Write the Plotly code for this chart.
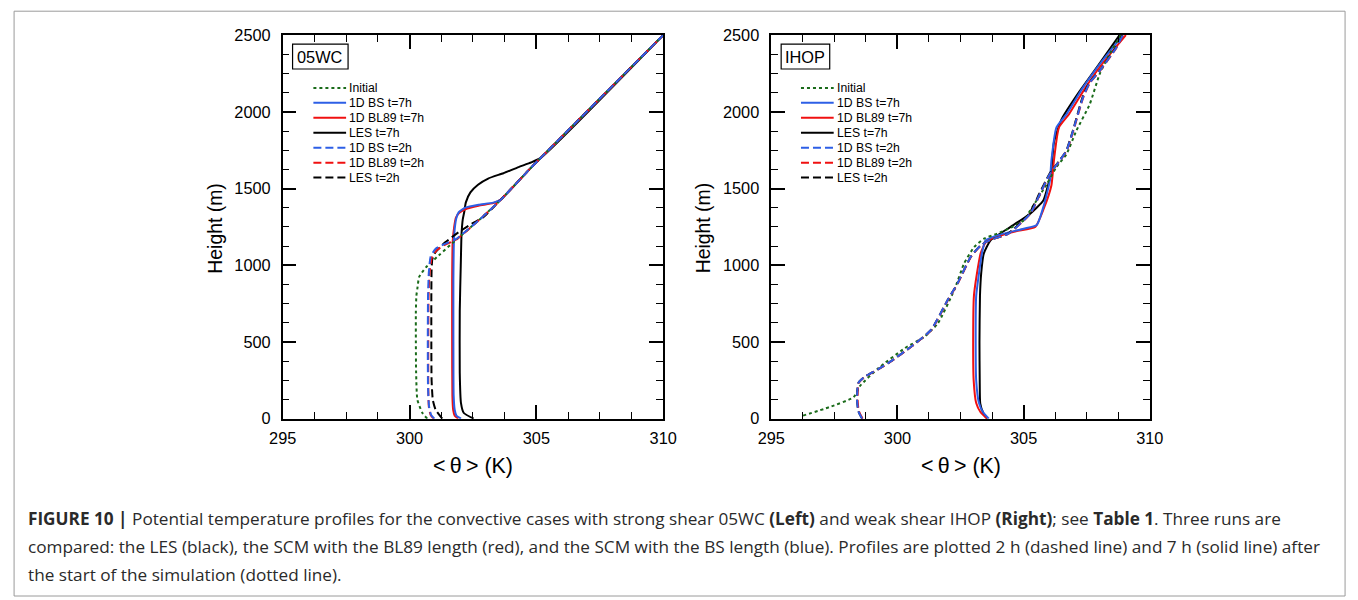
import plotly.graph_objects as go

# The captured region is the figure plus an 8px page margin, scaled to 1358x600.
# Work in target-picture pixels and convert to figure pixels.
TARGET_W, TARGET_H = 1358, 600
PAGE_MARGIN = 8
CAP_W, CAP_H = 1374, 616
W, H = CAP_W - PAGE_MARGIN, CAP_H - PAGE_MARGIN
SX, SY = CAP_W / TARGET_W, CAP_H / TARGET_H

# ---------------- 05WC data (theta K, height m) ----------------
wc_init_T = [300.70, 300.51, 300.31, 300.26, 300.25, 300.25, 300.27, 300.31, 300.38, 300.64, 301.16, 301.81, 302.72, 303.50, 304.68, 305.10, 310.00]
wc_init_h = [0, 37, 123, 300, 500, 700, 800, 849, 924, 985, 1065, 1162, 1292, 1411, 1617, 1688, 2500]

wc_bs2_T = [300.98, 300.85, 300.77, 300.73, 300.72, 300.73, 300.76, 300.83, 301.03, 301.42, 301.81, 302.72, 303.50, 304.68, 305.10, 310.00]
wc_bs2_h = [0, 25, 80, 200, 500, 800, 950, 1054, 1108, 1141, 1168, 1292, 1411, 1617, 1688, 2500]

wc_bl2_T = [300.95, 300.83, 300.76, 300.74, 300.74, 300.75, 300.79, 300.88, 301.08, 301.45, 301.83, 302.72, 303.50, 304.68, 305.10, 310.00]
wc_bl2_h = [0, 25, 80, 200, 500, 800, 950, 1050, 1100, 1138, 1166, 1292, 1411, 1617, 1688, 2500]

wc_les2_T = [301.29, 301.03, 300.92, 300.87, 300.86, 300.86, 300.87, 300.90, 301.03, 301.42, 301.94, 302.46, 302.92, 303.50, 304.68, 305.10, 310.00]
wc_les2_h = [0, 58, 120, 250, 500, 800, 968, 1040, 1087, 1151, 1216, 1271, 1314, 1411, 1617, 1688, 2500]

wc_bs7_T = [302.03, 301.85, 301.78, 301.74, 301.73, 301.73, 301.75, 301.79, 301.85, 301.94, 302.20, 302.72, 303.30, 303.60, 304.68, 305.10, 310.00]
wc_bs7_h = [0, 20, 58, 150, 500, 900, 1150, 1250, 1310, 1346, 1376, 1395, 1408, 1428, 1617, 1688, 2500]

wc_bl7_T = [301.92, 301.78, 301.72, 301.69, 301.68, 301.68, 301.70, 301.76, 301.83, 301.95, 302.20, 302.72, 303.30, 303.60, 304.68, 305.10, 310.00]
wc_bl7_h = [0, 20, 58, 150, 500, 900, 1150, 1250, 1310, 1340, 1365, 1388, 1405, 1428, 1617, 1688, 2500]

wc_les7_T = [302.53, 302.14, 302.03, 301.98, 301.98, 302.02, 302.05, 302.10, 302.16, 302.22, 302.40, 302.70, 303.10, 303.70, 304.30, 304.80, 305.20, 310.00]
wc_les7_h = [0, 37, 100, 300, 700, 1000, 1200, 1300, 1350, 1410, 1475, 1525, 1565, 1600, 1640, 1670, 1703, 2500]

# ---------------- IHOP data ----------------
ih_init_T = [296.26, 297.30, 298.26, 298.52, 299.24, 300.29, 301.07, 301.60, 302.25, 302.64, 303.04, 303.43, 303.95, 304.50, 305.00, 305.26, 305.92, 306.30, 306.70, 307.09, 307.62, 308.01, 308.40, 308.85]
ih_init_h = [20, 75, 140, 214, 329, 459, 534, 621, 838, 1011, 1119, 1173, 1206, 1245, 1292, 1357, 1530, 1640, 1725, 1877, 2050, 2245, 2375, 2500]

ih_bs2_T = [298.60, 298.45, 298.40, 298.45, 298.72, 299.24, 299.63, 300.55, 301.33, 301.99, 302.38, 302.90, 303.30, 303.69, 304.40, 305.26, 305.65, 306.04, 306.43, 306.70, 306.96, 307.35, 307.62, 308.01, 308.67, 308.93]
ih_bs2_h = [0, 50, 123, 232, 275, 323, 362, 470, 578, 773, 881, 1054, 1130, 1165, 1206, 1336, 1466, 1595, 1682, 1747, 1877, 2093, 2190, 2266, 2418, 2500]

ih_bl2_T = [298.62, 298.47, 298.42, 298.46, 298.73, 299.25, 299.64, 300.56, 301.34, 302.00, 302.39, 302.91, 303.31, 303.70, 304.41, 305.27, 305.66, 306.05, 306.44, 306.71, 306.97, 307.36, 307.63, 308.02, 308.68, 308.95]
ih_bl2_h = ih_bs2_h

ih_les2_T = [298.60, 298.45, 298.40, 298.45, 298.72, 299.24, 299.63, 300.55, 301.33, 301.99, 302.38, 302.90, 303.30, 303.69, 304.38, 305.22, 305.62, 306.02, 306.42, 306.69, 306.95, 307.33, 307.60, 308.00, 308.65, 308.92]
ih_les2_h = ih_bs2_h

ih_bs7_T = [303.62, 303.40, 303.23, 303.12, 303.10, 303.12, 303.23, 303.35, 303.49, 303.95, 305.00, 305.52, 305.78, 306.04, 306.10, 306.30, 306.70, 307.35, 308.01, 308.93]
ih_bs7_h = [0, 40, 102, 250, 500, 800, 946, 1080, 1162, 1195, 1238, 1262, 1379, 1552, 1682, 1898, 1985, 2158, 2310, 2500]

ih_bl7_T = [303.55, 303.30, 303.12, 303.02, 303.00, 303.03, 303.15, 303.30, 303.50, 303.90, 304.70, 305.46, 305.80, 306.10, 306.20, 306.40, 306.80, 307.45, 308.10, 309.05]
ih_bl7_h = [0, 40, 102, 250, 500, 800, 946, 1080, 1150, 1185, 1222, 1249, 1370, 1520, 1682, 1898, 1985, 2158, 2310, 2500]

ih_les7_T = [303.55, 303.40, 303.28, 303.26, 303.25, 303.27, 303.32, 303.42, 303.69, 304.47, 305.26, 305.78, 305.98, 306.10, 306.20, 306.50, 307.20, 307.90, 308.80]
ih_les7_h = [0, 37, 100, 250, 500, 800, 950, 1076, 1162, 1249, 1336, 1422, 1530, 1617, 1800, 1950, 2130, 2290, 2500]

legend_labels = ["Initial", "1D BS t=7h", "1D BL89 t=7h", "LES t=7h",
                 "1D BS t=2h", "1D BL89 t=2h", "LES t=2h"]
panel_labels = ["05WC", "IHOP"]

x_range = [295, 310]
y_range = [0, 2500]
x_ticks = [295, 300, 305, 310]
y_ticks = [0, 500, 1000, 1500, 2000, 2500]

GREEN = "#1a6b1a"
BLUE = "#2d5fe6"
RED = "#f01010"
BLACK = "#000000"
SOLID = "solid"
DASH = "8px,4px"
DOT = "3px,3px"

# style for each legend entry (same order as legend_labels)
styles = [(GREEN, DOT), (BLUE, SOLID), (RED, SOLID), (BLACK, SOLID),
          (BLUE, DASH), (RED, DASH), (BLACK, DASH)]

fig = go.Figure()

panels = [
    ("x", "y", [(wc_init_T, wc_init_h), (wc_bs7_T, wc_bs7_h), (wc_bl7_T, wc_bl7_h), (wc_les7_T, wc_les7_h),
                (wc_bs2_T, wc_bs2_h), (wc_bl2_T, wc_bl2_h), (wc_les2_T, wc_les2_h)]),
    ("x2", "y2", [(ih_init_T, ih_init_h), (ih_bs7_T, ih_bs7_h), (ih_bl7_T, ih_bl7_h), (ih_les7_T, ih_les7_h),
                  (ih_bs2_T, ih_bs2_h), (ih_bl2_T, ih_bl2_h), (ih_les2_T, ih_les2_h)]),
]

# drawing order: solids (LES, BL89, BS), then initial, then dashed (LES, BL89, BS)
order = [3, 2, 1, 0, 6, 5, 4]
for xa, ya, series in panels:
    for i in order:
        T, h = series[i]
        col, dash = styles[i]
        fig.add_trace(go.Scatter(
            x=T, y=h, mode="lines", xaxis=xa, yaxis=ya, showlegend=False,
            name=legend_labels[i],
            line=dict(color=col, width=2, dash=dash, shape="spline", smoothing=0.5),
        ))

# panel geometry in target-picture pixels
px_left = [(279, 663), (772, 1154)]
py_top, py_bot = 34, 419


def fx(p):
    return (p * SX - PAGE_MARGIN) / W


def fy(p):
    return 1 - (p * SY - PAGE_MARGIN) / H


FONT = "Liberation Sans, Arial, sans-serif"
FS = 1.02  # font compensation for the downscale

axis_common = dict(
    showline=True, linecolor="black", linewidth=1.5, mirror="allticks",
    ticks="inside", ticklen=14, tickwidth=1.5, tickcolor="black",
    showgrid=False, zeroline=False,
    tickfont=dict(family=FONT, size=16 * FS, color="black"),
)

for k, (xa, ya) in enumerate([("xaxis", "yaxis"), ("xaxis2", "yaxis2")]):
    x0, x1 = px_left[k]
    xd = dict(axis_common)
    xd.update(range=x_range, tickvals=x_ticks, domain=[fx(x0), fx(x1)],
              minor=dict(ticks="inside", ticklen=7, dtick=1.25, tickwidth=1.2, tickcolor="black", showgrid=False),
              anchor="y" if k == 0 else "y2", ticklabelstandoff=4)
    yd = dict(axis_common)
    yd.update(range=y_range, tickvals=y_ticks, domain=[fy(py_bot), fy(py_top)],
              minor=dict(ticks="inside", ticklen=7, dtick=125, tickwidth=1.2, tickcolor="black", showgrid=False),
              anchor="x" if k == 0 else "x2", ticklabelstandoff=7)
    fig.layout[xa] = xd
    fig.layout[ya] = yd

shapes = []
annotations = []

for k in range(2):
    x0, x1 = px_left[k]
    # axis titles
    annotations.append(dict(xref="paper", yref="paper", x=fx(x0 - 68), y=fy(228), text="Height (m)",
                            textangle=-90, showarrow=False, xanchor="center", yanchor="middle",
                            font=dict(family=FONT, size=19 * FS, color="black")))
    annotations.append(dict(xref="paper", yref="paper", x=fx((x0 + x1) / 2), y=fy(467), text="<\u2009θ\u2009> (K)",
                            showarrow=False, xanchor="center", yanchor="middle",
                            font=dict(family=FONT, size=21 * FS, color="black")))
    # panel label box
    bx0 = x0 + 10
    bw = 56 if k == 0 else 49
    shapes.append(dict(type="rect", xref="paper", yref="paper", x0=fx(bx0), x1=fx(bx0 + bw),
                       y0=fy(68), y1=fy(43), line=dict(color="black", width=1.2), fillcolor="white"))
    annotations.append(dict(xref="paper", yref="paper", x=fx(bx0 + bw / 2), y=fy(56), text=panel_labels[k],
                            showarrow=False, xanchor="center", yanchor="middle",
                            font=dict(family=FONT, size=16 * FS, color="black")))
    # legend
    lx0 = x0 + 31 if k == 0 else x0 + 30
    lx1 = lx0 + 33
    for j, lab in enumerate(legend_labels):
        yy = 87 + 15 * j
        col, dash = styles[j]
        shapes.append(dict(type="line", xref="paper", yref="paper", x0=fx(lx0), x1=fx(lx1),
                           y0=fy(yy), y1=fy(yy), line=dict(color=col, width=2, dash=dash)))
        annotations.append(dict(xref="paper", yref="paper", x=fx(lx1 + 1), y=fy(yy), text=lab,
                                showarrow=False, xanchor="left", yanchor="middle",
                                font=dict(family=FONT, size=12 * FS, color="black")))

# outer frame
shapes.append(dict(type="rect", xref="paper", yref="paper", x0=fx(8), x1=fx(1351), y0=fy(597), y1=fy(10),
                   line=dict(color="#9a9a9a", width=1)))

caption_lines = [
    "<b>FIGURE 10 |</b> Potential temperature profiles for the convective cases with strong shear 05WC <b>(Left)</b> and weak shear IHOP <b>(Right)</b>; see <b>Table 1</b>. Three runs are",
    "compared: the LES (black), the SCM with the BL89 length (red), and the SCM with the BS length (blue). Profiles are plotted 2 h (dashed line) and 7 h (solid line) after",
    "the start of the simulation (dotted line).",
]
for j, line in enumerate(caption_lines):
    annotations.append(dict(xref="paper", yref="paper", x=fx(20), y=fy(519 + 28 * j), text=line,
                            showarrow=False, xanchor="left", yanchor="middle",
                            font=dict(family="Open Sans, Liberation Sans, sans-serif", size=17.2, color="#2a2a2a")))

fig.update_layout(
    width=W, height=H, margin=dict(l=0, r=0, t=0, b=0),
    paper_bgcolor="white", plot_bgcolor="white",
    shapes=shapes, annotations=annotations, showlegend=False,
)

fig.write_html("out.html")
